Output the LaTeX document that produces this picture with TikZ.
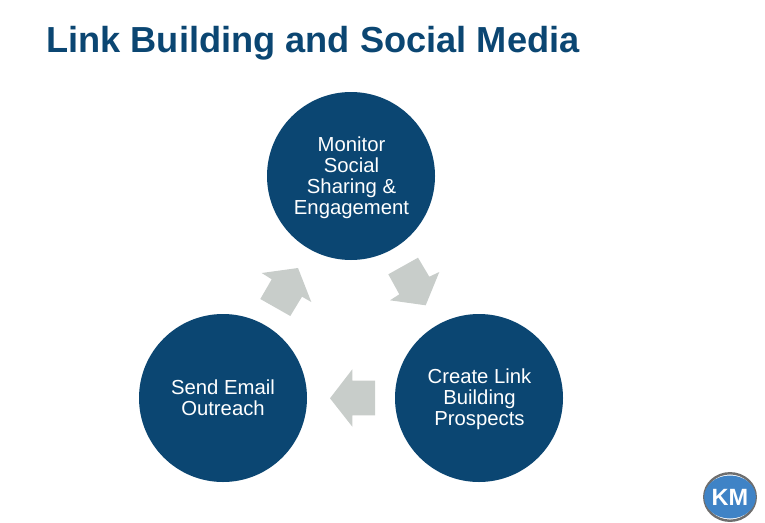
\documentclass[tikz,border=0pt]{standalone}
\usepackage{fontspec}
\usetikzlibrary{shapes.geometric}
\setmainfont{Liberation Sans}
\definecolor{kmnavy}{HTML}{0B4672}
\definecolor{kmarrow}{HTML}{C8CDCA}
\definecolor{kmblue}{HTML}{3F83C6}
\definecolor{kmring}{HTML}{6E6E6E}
\tikzset{
  stage/.style={circle,fill=kmnavy,draw=none,minimum size=168pt,inner sep=0pt},
  stagetext/.style={inner sep=0pt,text=white,align=center,font=\fontsize{20.3}{21}\selectfont},
  flow/.style={fill=kmarrow,draw=none},
  title/.style={anchor=base west,inner sep=0pt,text=kmnavy,font=\fontsize{36.2}{40}\selectfont\bfseries},
  logoring/.style={ellipse,draw=kmring,line width=2.4pt,fill=white,minimum width=51.5pt,minimum height=47.5pt,inner sep=0pt},
  logodisc/.style={ellipse,fill=kmblue,draw=none,minimum width=47pt,minimum height=43pt,inner sep=0pt,text=white,
    font=\fontsize{23.5}{23.5}\selectfont\bfseries}
}
\begin{document}
\begin{tikzpicture}[x=1pt,y=-1pt]
\useasboundingbox (0,0) rectangle (765,522);
\node[title] (head) at (46.2,52.5) {Link Building and Social Media};
\node[stage] (monitor) at (351,176) {};
\node[stage] (create) at (479,398) {};
\node[stage] (send) at (223,398) {};
\node[stagetext,yshift=-1.5pt,xshift=0.5pt] (monitortext) at (monitor) {Monitor\\Social\\Sharing \&\\Engagement};
\node[stagetext,yshift=-0.8pt,xshift=0.5pt] (createtext) at (create) {Create Link\\Building\\Prospects};
\node[stagetext] (sendtext) at (send) {Send Email\\Outreach};
\fill[flow] (418,257.7) -- (429.3,276.7) -- (439.3,272) -- (425.7,305.3) -- (390,300.3) -- (399.3,294.3) -- (388.3,274.3) -- cycle;
\fill[flow] (330,398.3) -- (352.3,369.3) -- (352.3,380.7) -- (375,380.7) -- (375,415.3) -- (352.3,415.3) -- (352.3,426.7) -- cycle;
\fill[flow] (261.7,273) -- (298,268) -- (311.3,302) -- (302,296.7) -- (290.3,316) -- (260.3,299) -- (271.7,279.3) -- cycle;
\node[logoring] (ring) at (730,497) {};
\node[logodisc] (logo) at (ring) {KM};
\end{tikzpicture}
\end{document}
